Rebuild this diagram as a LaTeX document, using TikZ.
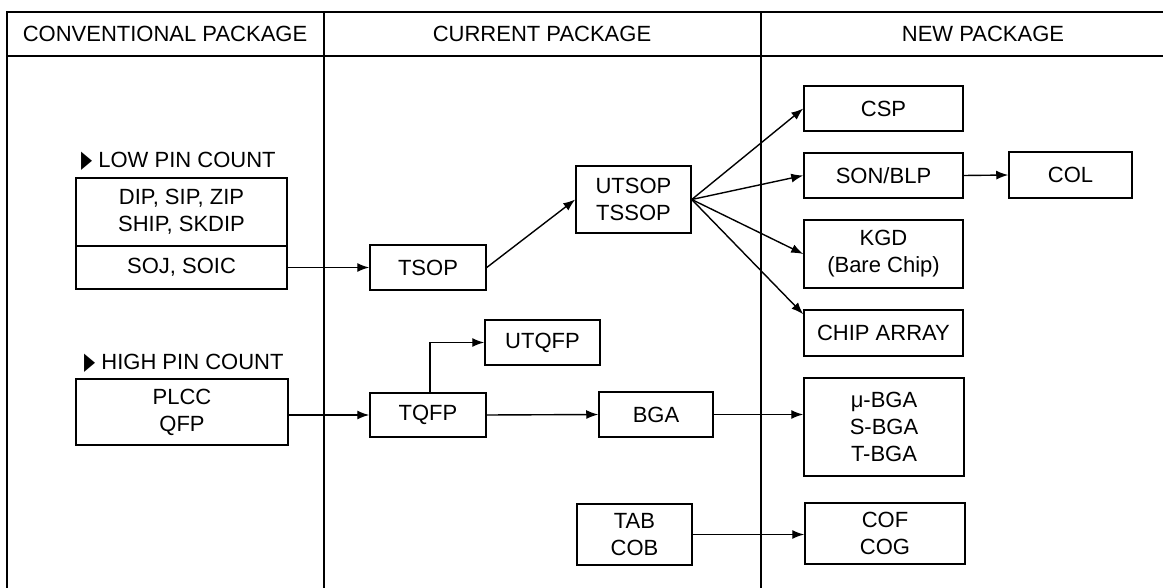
\documentclass[tikz,border=0pt]{standalone}
\usepackage{fontspec}
\setmainfont{Liberation Sans}
\newfontfamily\dejavu{DejaVu Sans}
\usetikzlibrary{arrows.meta}
\newcommand{\tri}{\raisebox{0.5pt}{\dejavu\fontsize{24}{24}\selectfont\scalebox{0.6}[1]{▶}}}
\tikzset{
  pbox/.style={draw, line width=1.5pt, inner sep=0pt, align=center, font=\fontsize{22}{27}\selectfont},
  conn/.style={line width=1.4pt, -{Latex[length=12pt,width=9pt]}},
  frame/.style={line width=1.4pt},
  hdr/.style={font=\fontsize{22}{26}\selectfont, inner sep=0pt},
  lbl/.style={font=\fontsize{22}{26}\selectfont, inner sep=0pt, anchor=west}
}
\begin{document}
\begin{tikzpicture}[x=1pt,y=-1pt]
\useasboundingbox (0,0) rectangle (1163,588);
% frame
\draw[frame] (7,588) -- (7,12) -- (1163,12);
\draw[frame] (7,56) -- (1163,56);
\draw[frame] (324,12) -- (324,588);
\draw[frame] (761,12) -- (761,588);
% headers
\node[hdr] (h1) at (165,34) {CONVENTIONAL PACKAGE};
\node[hdr] (h2) at (542,34) {CURRENT PACKAGE};
\node[hdr] (h3) at (983,34) {NEW PACKAGE};
% left column
\node[lbl] (low) at (81,161) {\tri\ LOW PIN COUNT};
\node[pbox, minimum width=211pt, minimum height=68pt] (dip) at (181.5,212) {DIP, SIP, ZIP\\SHIP, SKDIP};
\node[pbox, minimum width=211pt, minimum height=43pt] (soj) at (181.5,267.5) {SOJ, SOIC};
\node[lbl] (high) at (84,363) {\tri\ HIGH PIN COUNT};
\node[pbox, minimum width=212pt, minimum height=66pt] (plcc) at (182,412) {PLCC\\QFP};
% middle column
\node[pbox, minimum width=116pt, minimum height=45pt] (tsop) at (428,267.5) {TSOP};
\node[pbox, minimum width=115pt, minimum height=67pt] (uts) at (633.5,199.5) {UTSOP\\TSSOP};
\node[pbox, minimum width=115pt, minimum height=45pt] (utqfp) at (542.5,342.5) {UTQFP};
\node[pbox, minimum width=116pt, minimum height=44pt] (tqfp) at (428,415) {TQFP};
\node[pbox, minimum width=114pt, minimum height=45pt] (bga) at (656,414.5) {BGA};
\node[pbox, minimum width=115pt, minimum height=61pt] (tab) at (634.5,534.5) {TAB\\COB};
% right column
\node[pbox, minimum width=159pt, minimum height=45pt] (csp) at (883.5,108.5) {CSP};
\node[pbox, minimum width=159pt, minimum height=45pt] (son) at (883.5,175.5) {SON/BLP};
\node[pbox, minimum width=123pt, minimum height=46pt] (col) at (1070.5,175) {COL};
\node[pbox, minimum width=159pt, minimum height=68pt] (kgd) at (883.5,254) {KGD\\(Bare Chip)};
\node[pbox, minimum width=159pt, minimum height=46pt] (chip) at (883.5,333) {CHIP ARRAY};
\node[pbox, minimum width=160pt, minimum height=98pt] (mubga) at (884,427) {μ-BGA\\S-BGA\\T-BGA};
\node[pbox, minimum width=160pt, minimum height=61pt] (cof) at (885,533.5) {COF\\COG};
% connectors
\draw[conn] (soj.east) -- (soj.east -| tsop.west);
\draw[conn] (tsop.east) -- (uts.west);
\draw[conn] (uts.east) -- (csp.west);
\draw[conn] (uts.east) -- (son.west);
\draw[conn] (uts.east) -- (kgd.west);
\draw[conn] (uts.east) -- ([yshift=-5pt]chip.north west);
\draw[conn] (son.east) -- (col.west);
\draw[conn] (plcc.east |- tqfp.west) -- (tqfp.west);
\draw[conn] ([xshift=2pt]tqfp.north) |- (utqfp.west);
\draw[conn] (tqfp.east) -- (bga.west);
\draw[conn] (bga.east) -- (bga.east -| mubga.west);
\draw[conn] (tab.east) -- (tab.east -| cof.west);
\end{tikzpicture}
\end{document}
